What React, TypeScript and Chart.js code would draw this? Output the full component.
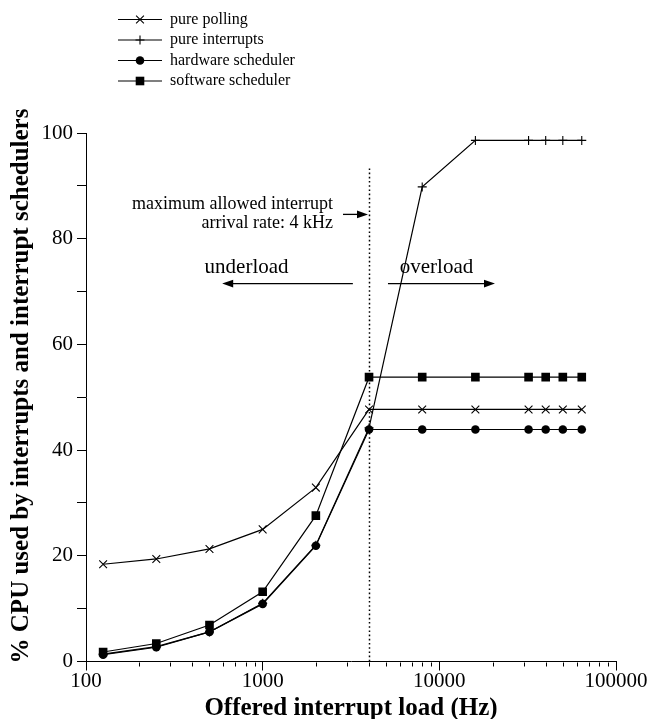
import React, { useEffect, useRef } from 'react';
import { Chart, registerables } from 'chart.js';

Chart.register(...registerables);

// ---- data ----
const LOADS_HZ = [125, 250, 500, 1000, 2000, 4000, 8000, 16000, 32000, 40000, 50000, 64000];
const PURE_POLLING = [18.4, 19.4, 21.3, 25.0, 32.9, 47.7, 47.7, 47.7, 47.7, 47.7, 47.7, 47.7];
const PURE_INTERRUPTS = [1.4, 2.8, 5.6, 11.0, 22.0, 44.2, 89.8, 98.6, 98.6, 98.6, 98.6, 98.6];
const HARDWARE_SCHEDULER = [1.3, 2.7, 5.6, 10.9, 21.9, 43.9, 43.9, 43.9, 43.9, 43.9, 43.9, 43.9];
const SOFTWARE_SCHEDULER = [1.8, 3.4, 6.9, 13.2, 27.6, 53.8, 53.8, 53.8, 53.8, 53.8, 53.8, 53.8];
const SERIES_LABELS = ['pure polling', 'pure interrupts', 'hardware scheduler', 'software scheduler'];
const SERIES_MARKERS = ['crossRot', 'cross', 'circle', 'rect'];

const X_MAJOR_TICKS = [100, 1000, 10000, 100000];
const X_MINOR_MULTIPLIERS = [2, 3, 4, 5, 6, 7, 8, 9];
const Y_TICKS = [0, 10, 20, 30, 40, 50, 60, 70, 80, 90, 100];
const Y_LABELED_TICKS = [0, 20, 40, 60, 80, 100];

const X_TITLE = 'Offered interrupt load (Hz)';
const Y_TITLE = '% CPU used by interrupts and interrupt schedulers';
const LIMIT_HZ = 4000;
const LIMIT_TOP = 93.3;
const LIMIT_NOTE = ['maximum allowed interrupt', 'arrival rate: 4 kHz'];
const UNDERLOAD_LABEL = 'underload';
const OVERLOAD_LABEL = 'overload';

const SERIF = '"Liberation Serif", "Times New Roman", "DejaVu Serif", serif';

function drawArrow(ctx: CanvasRenderingContext2D, x1: number, y1: number, x2: number, yy: number) {
  const dir = x2 > x1 ? 1 : -1;
  const head = 11;
  const half = 3.8;
  ctx.beginPath();
  ctx.moveTo(x1, y1);
  ctx.lineTo(x2 - dir * head * 0.8, yy);
  ctx.stroke();
  ctx.beginPath();
  ctx.moveTo(x2, yy);
  ctx.lineTo(x2 - dir * head, yy - half);
  ctx.lineTo(x2 - dir * head, yy + half);
  ctx.closePath();
  ctx.fill();
}

function drawMarker(ctx: CanvasRenderingContext2D, style: string, x: number, y: number) {
  ctx.beginPath();
  if (style === 'crossRot') {
    const r = 3.9;
    ctx.lineWidth = 1.1;
    ctx.moveTo(x - r, y - r); ctx.lineTo(x + r, y + r);
    ctx.moveTo(x + r, y - r); ctx.lineTo(x - r, y + r);
    ctx.stroke();
  } else if (style === 'cross') {
    const r = 4.5;
    ctx.lineWidth = 1.1;
    ctx.moveTo(x, y - r); ctx.lineTo(x, y + r);
    ctx.moveTo(x - r, y); ctx.lineTo(x + r, y);
    ctx.stroke();
  } else if (style === 'circle') {
    ctx.arc(x, y, 4.3, 0, Math.PI * 2);
    ctx.fill();
  } else {
    ctx.rect(x - 4.3, y - 4.3, 8.6, 8.6);
    ctx.fill();
  }
}

const overlayPlugin = {
  id: 'overlay',
  beforeDatasetsDraw(chart: any) {
    const { ctx, scales: { x, y }, chartArea } = chart;
    ctx.save();
    ctx.strokeStyle = '#000';
    ctx.lineWidth = 1.5;
    ctx.setLineDash([1.6, 2.6]);
    const px = Math.round(x.getPixelForValue(LIMIT_HZ)) + 0.5;
    ctx.beginPath();
    ctx.moveTo(px, y.getPixelForValue(LIMIT_TOP));
    ctx.lineTo(px, chartArea.bottom);
    ctx.stroke();
    ctx.restore();
  },
  afterDraw(chart: any) {
    const { ctx, scales: { x, y }, chartArea } = chart;
    ctx.save();
    ctx.strokeStyle = '#000';
    ctx.fillStyle = '#000';
    ctx.lineWidth = 1;

    // minor ticks on the log axis
    const yb = Math.round(chartArea.bottom) + 0.5;
    for (const d of X_MAJOR_TICKS.slice(0, -1)) {
      for (const m of X_MINOR_MULTIPLIERS) {
        const px = Math.round(x.getPixelForValue(d * m)) + 0.5;
        ctx.beginPath();
        ctx.moveTo(px, yb);
        ctx.lineTo(px, yb + 4);
        ctx.stroke();
      }
    }

    // note about the limit
    ctx.font = `18px ${SERIF}`;
    ctx.textAlign = 'right';
    ctx.textBaseline = 'middle';
    ctx.fillText(LIMIT_NOTE[0], x.getPixelForValue(2500), y.getPixelForValue(86.6));
    ctx.fillText(LIMIT_NOTE[1], x.getPixelForValue(2500), y.getPixelForValue(83.0));
    ctx.lineWidth = 1.3;
    drawArrow(ctx, x.getPixelForValue(2850), y.getPixelForValue(84.6), x.getPixelForValue(LIMIT_HZ) - 1, y.getPixelForValue(84.6));

    // underload / overload
    ctx.font = `21px ${SERIF}`;
    ctx.textAlign = 'center';
    ctx.fillText(UNDERLOAD_LABEL, x.getPixelForValue(811), y.getPixelForValue(74.6));
    ctx.fillText(OVERLOAD_LABEL, x.getPixelForValue(9640), y.getPixelForValue(74.6));
    const ay = y.getPixelForValue(71.5);
    drawArrow(ctx, x.getPixelForValue(3240), ay, x.getPixelForValue(590), ay);
    drawArrow(ctx, x.getPixelForValue(5120), ay, x.getPixelForValue(20650), ay);

    // legend
    ctx.font = `16px ${SERIF}`;
    ctx.textAlign = 'left';
    SERIES_LABELS.forEach((label, i) => {
      const ly = 19.5 + 20.5 * i;
      ctx.lineWidth = 1.2;
      ctx.beginPath();
      ctx.moveTo(118, ly);
      ctx.lineTo(162, ly);
      ctx.stroke();
      drawMarker(ctx, SERIES_MARKERS[i], 140, ly);
      ctx.fillText(label, 170, ly);
    });

    // y axis title
    ctx.font = `bold 25px ${SERIF}`;
    ctx.textAlign = 'center';
    ctx.textBaseline = 'middle';
    ctx.translate(22, 386);
    ctx.rotate(-Math.PI / 2);
    ctx.fillText(Y_TITLE, 0, 0);
    ctx.restore();
  },
};

const seriesData = [PURE_POLLING, PURE_INTERRUPTS, HARDWARE_SCHEDULER, SOFTWARE_SCHEDULER];
const SERIES_RADIUS = [5.5, 4.5, 4.3, 6.1];

export default function App() {
  const canvasRef = useRef<HTMLCanvasElement | null>(null);

  useEffect(() => {
    if (!canvasRef.current) return;
    const xTickValues: number[] = [];
    X_MAJOR_TICKS.forEach((d, i) => {
      xTickValues.push(d);
      if (i < X_MAJOR_TICKS.length - 1) X_MINOR_MULTIPLIERS.forEach((m) => xTickValues.push(d * m));
    });
    xTickValues.sort((a, b) => a - b);

    const chart = new Chart(canvasRef.current, {
      type: 'line',
      data: {
        datasets: seriesData.map((vals, i) => ({
          label: SERIES_LABELS[i],
          data: LOADS_HZ.map((hz, j) => ({ x: hz, y: vals[j] })),
          borderColor: '#000',
          backgroundColor: '#000',
          borderWidth: 1.2,
          pointStyle: SERIES_MARKERS[i] as any,
          pointRadius: SERIES_RADIUS[i],
          pointBorderWidth: i < 2 ? 1.1 : 0,
          pointBorderColor: '#000',
          pointBackgroundColor: '#000',
          tension: 0,
          fill: false,
        })),
      },
      options: {
        responsive: false,
        animation: false,
        events: [],
        layout: { padding: { left: 0, right: 35, top: 133, bottom: 0 } },
        plugins: { legend: { display: false }, tooltip: { enabled: false } },
        scales: {
          x: {
            type: 'logarithmic',
            min: 100,
            max: 100000,
            afterFit: (s: any) => { s.height = 57.5; },
            afterBuildTicks: (s: any) => {
              s.ticks = xTickValues.map((v) => ({ value: v, major: X_MAJOR_TICKS.includes(v) }));
            },
            ticks: {
              autoSkip: false,
              maxRotation: 0,
              padding: 0,
              color: '#000',
              font: { family: SERIF, size: 21, lineHeight: 1 },
              callback: (v: any) => (X_MAJOR_TICKS.includes(Number(v)) ? String(v) : ''),
            },
            grid: {
              drawOnChartArea: false,
              tickLength: 9,
              tickWidth: 1,
              tickColor: (c: any) => (c.tick && X_MAJOR_TICKS.includes(c.tick.value) ? '#000' : 'rgba(0,0,0,0)'),
            },
            border: { display: true, color: '#000', width: 1 },
            title: {
              display: true,
              text: X_TITLE,
              color: '#000',
              font: { family: SERIF, size: 25, weight: 'bold', lineHeight: 0.8 },
              padding: { top: 0, bottom: 0 },
            },
          },
          y: {
            type: 'linear',
            min: 0,
            max: 100,
            afterFit: (s: any) => { s.width = 86; },
            afterBuildTicks: (s: any) => {
              s.ticks = Y_TICKS.map((v) => ({ value: v }));
            },
            ticks: {
              autoSkip: false,
              padding: 4,
              color: '#000',
              font: { family: SERIF, size: 21, lineHeight: 1 },
              callback: (v: any) => (Y_LABELED_TICKS.includes(Number(v)) ? String(v) : ''),
            },
            grid: { drawOnChartArea: false, tickLength: 9, tickWidth: 1, tickColor: '#000' },
            border: { display: true, color: '#000', width: 1 },
          },
        },
      },
      plugins: [overlayPlugin],
    });
    return () => chart.destroy();
  }, []);

  return (
    <div style={{ position: 'absolute', left: 0, top: 0, width: 651, height: 719, background: '#fff' }}>
      <canvas ref={canvasRef} width={651} height={719} />
    </div>
  );
}
